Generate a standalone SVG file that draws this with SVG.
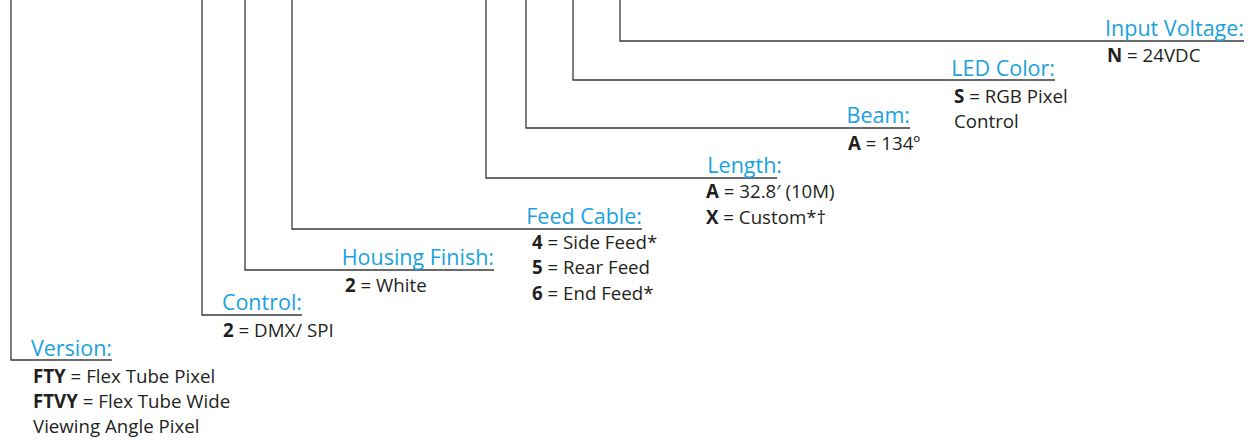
<svg xmlns="http://www.w3.org/2000/svg" width="1256" height="440" viewBox="0 0 1256 440">
<style>
.c{fill:none;stroke:#3a3a3a;stroke-width:1.3}
.h{font-family:"Open Sans","Liberation Sans",sans-serif;font-size:21.5px;fill:#19a2de;text-anchor:end}
.v{font-family:"Open Sans","Liberation Sans",sans-serif;font-size:18.7px;fill:#231f20}
.v tspan.b{font-weight:bold}
</style>
<rect width="1256" height="440" fill="#fff"/>
<g id="connectors">
<path class="c" d="M11 0V360H112"/>
<path class="c" d="M202 0V315H302"/>
<path class="c" d="M245 0V270H494"/>
<path class="c" d="M292 0V229H642"/>
<path class="c" d="M486 0V178H777"/>
<path class="c" d="M526 0V128H910"/>
<path class="c" d="M573 0V80H1055"/>
<path class="c" d="M620 0V41H1244"/>
</g>
<g id="version">
<text class="h" x="112" y="356">Version:</text>
<text class="v" x="33" y="383"><tspan class="b">FTY</tspan> = Flex Tube Pixel</text>
<text class="v" x="33" y="408"><tspan class="b">FTVY</tspan> = Flex Tube Wide</text>
<text class="v" x="33" y="433">Viewing Angle Pixel</text>
</g>
<g id="control">
<text class="h" x="302" y="310">Control:</text>
<text class="v" x="223" y="337"><tspan class="b">2</tspan> = DMX/ SPI</text>
</g>
<g id="housing">
<text class="h" x="494" y="265">Housing Finish:</text>
<text class="v" x="345" y="292"><tspan class="b">2</tspan> = White</text>
</g>
<g id="feed">
<text class="h" x="642" y="224">Feed Cable:</text>
<text class="v" x="532" y="249"><tspan class="b">4</tspan> = Side Feed*</text>
<text class="v" x="532" y="274"><tspan class="b">5</tspan> = Rear Feed</text>
<text class="v" x="532" y="300"><tspan class="b">6</tspan> = End Feed*</text>
</g>
<g id="length">
<text class="h" x="782" y="173">Length:</text>
<text class="v" x="706" y="198"><tspan class="b">A</tspan> = 32.8′ (10M)</text>
<text class="v" x="706" y="224"><tspan class="b">X</tspan> = Custom*†</text>
</g>
<g id="beam">
<text class="h" x="910" y="123">Beam:</text>
<text class="v" x="848" y="150"><tspan class="b">A</tspan> = 134º</text>
</g>
<g id="led">
<text class="h" x="1055" y="76">LED Color:</text>
<text class="v" x="954" y="103"><tspan class="b">S</tspan> = RGB Pixel</text>
<text class="v" x="954" y="128">Control</text>
</g>
<g id="voltage">
<text class="h" x="1244" y="36">Input Voltage:</text>
<text class="v" x="1107" y="62"><tspan class="b">N</tspan> = 24VDC</text>
</g>
</svg>
